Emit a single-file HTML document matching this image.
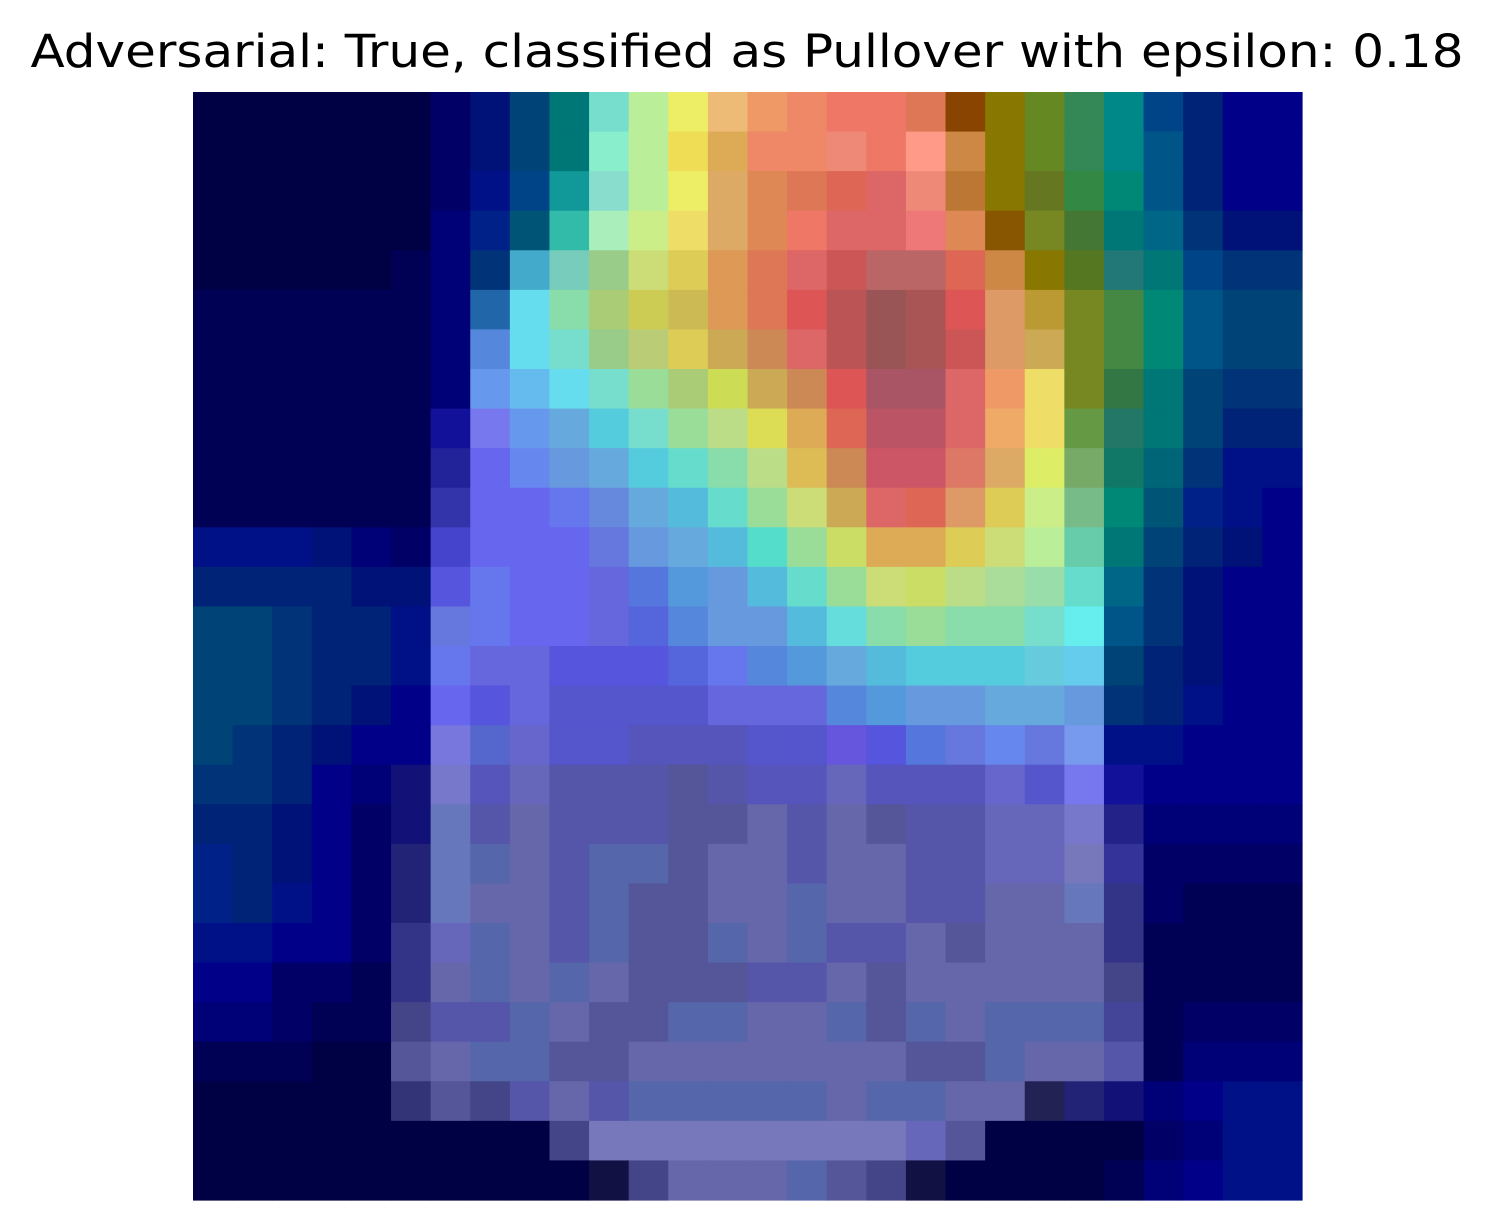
<!DOCTYPE html>
<html><head><meta charset="utf-8"><style>
html,body{margin:0;padding:0;background:#fff;}
svg{display:block;}
</style></head><body>
<svg id="chart" width="1495" height="1231" viewBox="0 0 1495 1231" xmlns="http://www.w3.org/2000/svg">
<rect x="0" y="0" width="1495" height="1231" fill="#fff"/>
<text x="747" y="67" text-anchor="middle" font-family="DejaVu Sans, Liberation Sans, sans-serif" font-size="45" textLength="1433" lengthAdjust="spacingAndGlyphs" fill="#000">Adversarial: True, classified as Pullover with epsilon: 0.18</text>
<g id="cells"></g>
</svg>
<script>
const rowColors = [
"004 004 004 004 004 004 006 017 047 077 7dc be9 ee6 eb7 e96 e86 e76 e76 d75 840 870 682 385 088 048 027 008 008",
"004 004 004 004 004 004 006 017 047 077 8ec be9 ed5 da5 e86 e86 e87 e76 f98 c84 870 682 385 088 058 027 008 008",
"004 004 004 004 004 004 006 018 048 199 8dc be9 ee6 da6 d85 d75 d65 d66 e87 b73 870 672 384 087 058 027 008 008",
"004 004 004 004 004 004 007 028 057 3ba aeb ce8 ed6 da6 d85 e76 d66 d66 e77 d85 850 782 473 077 068 037 017 017",
"004 004 004 004 004 005 007 037 4ac 7cb 9c8 cd7 dc5 d95 d75 d66 c55 b66 b66 d65 c84 870 572 277 077 048 037 037",
"005 005 005 005 005 005 007 26a 6de 8da ac7 cc5 cb5 d95 d75 d55 b55 955 a55 d55 d96 b93 782 484 087 058 047 047",
"005 005 005 005 005 005 007 58d 6de 7dc 9c8 bc7 dc5 ca5 c85 d66 b55 955 a55 c55 d96 ca5 782 484 087 058 047 047",
"005 005 005 005 005 005 007 69e 6be 6de 7dc 9d9 ac7 cd5 ca5 c85 d55 a56 a56 d66 e96 ed6 782 374 077 047 037 037",
"005 005 005 005 005 005 119 77e 69e 6ad 5cd 7dc 9d9 bd8 dd5 da5 d65 b56 b56 d66 ea6 ed6 694 276 077 047 027 027",
"005 005 005 005 005 005 229 66e 68e 69d 6ad 5cd 6dc 8da bd8 db5 c85 c56 c56 d76 da6 de6 7a6 176 067 037 018 018",
"005 005 005 005 005 005 33a 66e 66e 67e 68d 6ad 5bd 6dc 9d9 cd7 ca5 d66 d65 d96 dc5 ce8 7b8 087 057 028 018 008",
"018 018 018 017 007 006 44c 66e 66e 66e 67d 69d 6ad 5bd 5dc 9d9 cd6 da5 da5 dc5 cd7 be9 6ca 077 047 027 017 008",
"027 027 027 027 017 017 55d 67e 66e 66e 66d 57d 59d 69d 5bd 6dc 9d9 cd7 cd6 bd8 ad9 9da 6dc 068 037 017 008 008",
"047 047 037 027 027 018 67d 67e 66e 66e 66d 56d 58d 69d 69d 5bd 6dd 8da 9d9 8da 8da 7dc 6ee 058 037 017 008 008",
"047 047 037 027 027 018 67e 66d 66d 55d 55d 55d 56d 67e 58d 59d 6ad 5bd 5cd 5cd 5cd 6cd 6ce 047 027 017 008 008",
"047 047 037 027 017 008 66e 55d 66d 55c 55c 55c 55c 66d 66d 66d 58d 59d 69d 69d 6ad 6ad 69d 037 027 018 008 008",
"047 037 027 017 008 008 77d 56c 66c 55c 55c 55b 55b 55b 55c 55c 65d 55d 57d 67d 68e 67d 79e 018 018 008 008 008",
"037 037 027 008 007 117 77c 55b 66b 55a 55a 55a 559 55a 55b 55b 66b 55b 55b 55b 66c 55c 77e 119 008 008 008 008",
"027 027 017 008 006 117 67b 55a 66a 55a 55a 55a 559 559 66a 55a 66a 559 55a 55a 66b 66b 77c 228 007 007 007 007",
"028 027 017 008 006 227 67b 56a 66a 55a 56a 56a 559 66a 66a 55a 66a 66a 55a 55a 66b 66b 77b 339 006 006 006 006",
"028 027 018 008 006 227 67b 66a 66a 55a 56a 559 559 66a 66a 56a 66a 66a 55a 55a 66a 66a 67b 338 006 005 005 005",
"018 018 008 008 006 338 66b 56a 66a 55a 56a 559 559 56a 66a 56a 55a 55a 66a 559 66a 66a 66a 338 005 005 005 005",
"008 008 006 006 005 338 66a 56a 66a 56a 66a 559 559 559 55a 55a 66a 559 66a 66a 66a 66a 66a 448 005 005 005 005",
"007 007 006 005 005 448 55a 55a 56a 66a 559 559 56a 56a 66a 66a 56a 559 56a 66a 56a 56a 56a 449 005 006 006 006",
"005 005 005 004 004 559 66a 56a 56a 559 559 66a 66a 66a 66a 66a 66a 66a 559 559 56a 66a 66a 55a 005 007 007 007",
"004 004 004 004 004 337 559 448 55a 66a 55a 56a 56a 56a 56a 56a 66a 56a 56a 66a 66a 225 227 117 007 008 018 018",
"004 004 004 004 004 004 004 004 004 448 77b 77b 77b 77b 77b 77b 77b 77b 66b 559 004 004 004 004 006 007 018 018",
"004 004 004 004 004 004 004 004 004 004 114 448 66a 66a 66a 56a 559 448 114 004 004 004 004 005 007 008 018 018"
];
const x0 = 193, y0 = 92, x1 = 1302, y1 = 1200;
const nRows = rowColors.length;
const nCols = rowColors[0].split(" ").length;
const cw = (x1 - x0) / nCols, ch = (y1 - y0) / nRows;
function xPos(c){ return x0 + c * cw; }
function yPos(r){ return y0 + r * ch; }
const g = document.getElementById("cells");
const NS = "http://www.w3.org/2000/svg";
rowColors.forEach((row, r) => {
  row.split(" ").forEach((col, c) => {
    const rect = document.createElementNS(NS, "rect");
    rect.setAttribute("x", xPos(c).toFixed(2));
    rect.setAttribute("y", yPos(r).toFixed(2));
    rect.setAttribute("width", (cw + 0.6).toFixed(2));
    rect.setAttribute("height", (ch + 0.6).toFixed(2));
    rect.setAttribute("fill", "#" + col);
    
    
    g.appendChild(rect);
  });
});
</script>
</body></html>
